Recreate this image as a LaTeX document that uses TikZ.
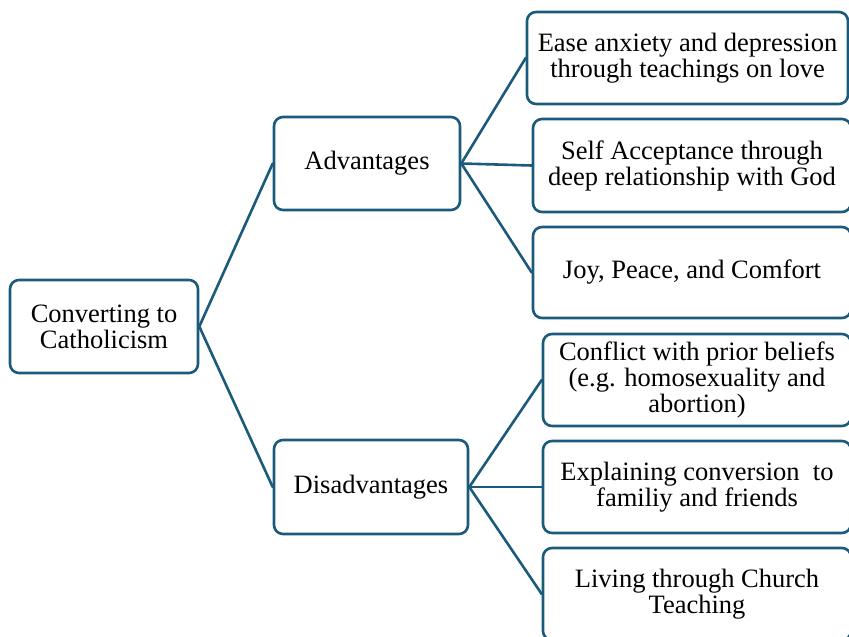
\documentclass[tikz,border=0pt]{standalone}
\usepackage{fontspec}
\setmainfont{Liberation Serif}
\definecolor{mapblue}{HTML}{1B5A7A}
\begin{document}
\begin{tikzpicture}[x=1pt,y=-1pt,line cap=round,line join=round,
  box/.style={draw=mapblue,line width=2.6pt,rounded corners=9pt,align=center,
    font=\fontsize{26.5}{26}\selectfont,inner sep=2pt},
  link/.style={draw=mapblue,line width=2.6pt}]

\useasboundingbox (0,0) rectangle (849,637);

% --- root ---
\node[box,minimum width=188,minimum height=93] (root) at (104,326.5) {Converting to\\Catholicism};

% --- the two branches ---
\node[box,minimum width=186,minimum height=93] (adv) at (367,163.5) {Advantages};
\node[box,minimum width=194,minimum height=94] (dis) at (371,487) {Disadvantages};

% --- leaves of advantages ---
\node[box,minimum width=321,minimum height=92] (adv1) at (687.5,58) {Ease anxiety and depression\\through teachings on love};
\node[box,minimum width=318,minimum height=93] (adv2) at (692,165.5) {Self Acceptance through\\deep relationship with God};
\node[box,minimum width=318,minimum height=91] (adv3) at (692,272.5) {Joy, Peace, and Comfort};

% --- leaves of disadvantages ---
\node[box,minimum width=308,minimum height=92] (dis1) at (697,380) {Conflict with prior beliefs\\(e.g. homosexuality and\\abortion)};
\node[box,minimum width=308,minimum height=92] (dis2) at (697,487) {Explaining conversion\ \ to\\familiy and friends};
\node[box,minimum width=308,minimum height=92] (dis3) at (697,594) {Living through Church\\Teaching};

% --- connectors ---
\draw[link] (root.east) -- (adv.west);
\draw[link] (root.east) -- (dis.west);

\draw[link] (adv.east) -- (adv1.west);
\draw[link] (adv.east) -- (adv2.west);
\draw[link] (adv.east) -- (adv3.west);

\draw[link] (dis.east) -- (dis1.west);
\draw[link] (dis.east) -- (dis2.west);
\draw[link] (dis.east) -- (dis3.west);
\end{tikzpicture}
\end{document}
